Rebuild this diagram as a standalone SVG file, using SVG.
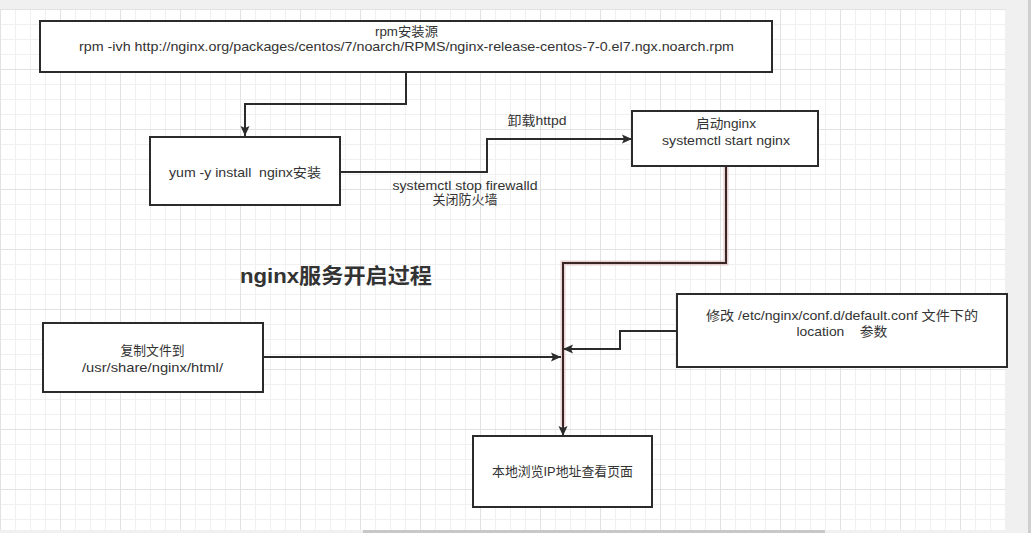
<svg xmlns="http://www.w3.org/2000/svg" width="1031" height="533" viewBox="0 0 1031 533">
  <defs>
    <pattern id="minor" width="15" height="15" patternUnits="userSpaceOnUse" y="9">
      <path d="M0,0.5 H15 M0.5,0 V15" fill="none" stroke="#f0f0f0" stroke-width="1"/>
    </pattern>
    <pattern id="major" width="60" height="60" patternUnits="userSpaceOnUse" y="9">
      <path d="M0,0.5 H60 M0.5,0 V60" fill="none" stroke="#e2e2e2" stroke-width="1"/>
    </pattern>
    <marker id="arr" markerUnits="userSpaceOnUse" markerWidth="11" markerHeight="10" refX="10" refY="5" orient="auto">
      <path d="M0,0.5 L10,5 L0,9.5 L2,5 Z" fill="#2b2b2b"/>
    </marker>
    <style>
      .box { fill: #ffffff; stroke: #2b2b2b; stroke-width: 2; }
      .t { font-family: "Liberation Sans", "Noto Sans CJK SC", sans-serif; font-size: 13px; fill: #333333; text-anchor: middle; white-space: pre; }
      .title { font-family: "Liberation Sans", "Noto Sans CJK SC", sans-serif; font-size: 21px; font-weight: bold; fill: #333333; text-anchor: middle; }
      .edge { fill: none; stroke: #2b2b2b; stroke-width: 2; }
      .glow { fill: none; stroke: #d2a6a6; stroke-width: 5; stroke-opacity: 0.5; }
      .sel { fill: none; stroke: #3a2626; stroke-width: 2; }
    </style>
  </defs>

  <!-- background -->
  <rect x="0" y="0" width="1031" height="533" fill="#f0f0f0"/>
  <rect x="0" y="9" width="1006" height="521" fill="#ffffff"/>
  <rect x="0" y="9" width="1006" height="521" fill="url(#minor)"/>
  <rect x="0" y="9" width="1006" height="521" fill="url(#major)"/>
  <rect x="1028" y="0" width="3" height="533" fill="#cfcfcf"/>
  <rect x="363" y="530" width="462" height="3" fill="#c8c8c8"/>

  <!-- connectors -->
  <g id="connectors">
    <path class="edge" d="M406,72 V104 H245 V136" marker-end="url(#arr)"/>
    <path class="edge" d="M340,172 H487 V139 H632" marker-end="url(#arr)"/>
    <path class="glow" d="M726,166 V263 H563 V426"/>
    <path class="sel" d="M726,166 V263 H563 V436" marker-end="url(#arr)"/>
    <path class="edge" d="M263,357 H561" marker-end="url(#arr)"/>
    <path class="edge" d="M677,331 H620 V349 H563" marker-end="url(#arr)"/>
    <text class="t" x="537" y="124.5" textLength="59" lengthAdjust="spacingAndGlyphs">卸载httpd</text>
    <text class="t" x="465" y="189.5" textLength="145" lengthAdjust="spacingAndGlyphs">systemctl stop firewalld</text>
    <text class="t" x="465" y="204" textLength="65" lengthAdjust="spacingAndGlyphs">关闭防火墙</text>
  </g>

  <g id="node-rpm">
    <rect class="box" x="40" y="21" width="732" height="51"/>
    <text class="t" x="406.5" y="36" textLength="63" lengthAdjust="spacingAndGlyphs">rpm安装源</text>
    <text class="t" x="406.5" y="51" textLength="655" lengthAdjust="spacingAndGlyphs">rpm -ivh http://nginx.org/packages/centos/7/noarch/RPMS/nginx-release-centos-7-0.el7.ngx.noarch.rpm</text>
  </g>

  <g id="node-yum">
    <rect class="box" x="150" y="137" width="190" height="68"/>
    <text class="t" x="245" y="177" textLength="152" lengthAdjust="spacingAndGlyphs" xml:space="preserve">yum -y install  nginx安装</text>
  </g>

  <g id="node-start">
    <rect class="box" x="632" y="111" width="186" height="55"/>
    <text class="t" x="726" y="127.5" textLength="60" lengthAdjust="spacingAndGlyphs">启动nginx</text>
    <text class="t" x="726" y="144.5" textLength="128" lengthAdjust="spacingAndGlyphs">systemctl start nginx</text>
  </g>

  <g id="node-title">
    <text class="title" x="336" y="282.5" textLength="192" lengthAdjust="spacingAndGlyphs">nginx服务开启过程</text>
  </g>

  <g id="node-copy">
    <rect class="box" x="43" y="323" width="220" height="69"/>
    <text class="t" x="152.5" y="354.5" textLength="64" lengthAdjust="spacingAndGlyphs">复制文件到</text>
    <text class="t" x="152.5" y="372" textLength="141" lengthAdjust="spacingAndGlyphs">/usr/share/nginx/html/</text>
  </g>

  <g id="node-conf">
    <rect class="box" x="677" y="294" width="330" height="73"/>
    <text class="t" x="842" y="319.5" textLength="272" lengthAdjust="spacingAndGlyphs">修改 /etc/nginx/conf.d/default.conf 文件下的</text>
    <text class="t" x="842" y="336" textLength="91" lengthAdjust="spacingAndGlyphs" xml:space="preserve">location    参数</text>
  </g>

  <g id="node-browse">
    <rect class="box" x="473" y="436" width="179" height="71"/>
    <text class="t" x="562.5" y="476" textLength="141" lengthAdjust="spacingAndGlyphs">本地浏览IP地址查看页面</text>
  </g>
</svg>
